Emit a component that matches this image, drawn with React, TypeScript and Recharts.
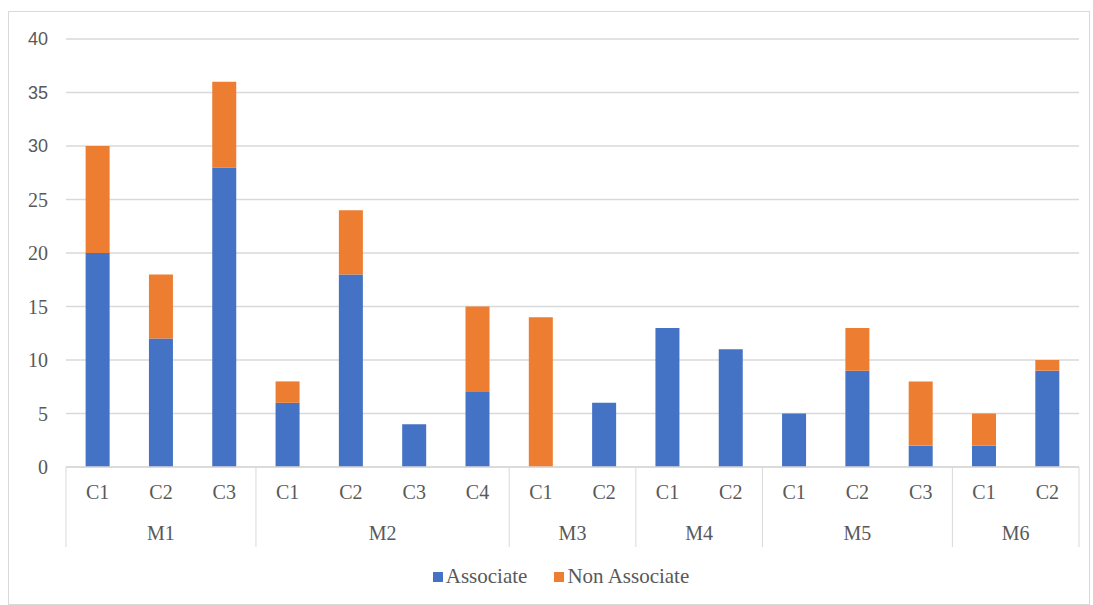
import React from "react";
import { BarChart, Bar, XAxis, YAxis, CartesianGrid, Legend } from "recharts";

// sub-category / group per column
const categories = ["C1", "C2", "C3", "C1", "C2", "C3", "C4", "C1", "C2", "C1", "C2", "C1", "C2", "C3", "C1", "C2"];
const groups = ["M1", "M1", "M1", "M2", "M2", "M2", "M2", "M3", "M3", "M4", "M4", "M5", "M5", "M5", "M6", "M6"];
const associate = [20, 12, 28, 6, 18, 4, 7, 0, 6, 13, 11, 5, 9, 2, 2, 9];
const nonAssociate = [10, 6, 8, 2, 6, 0, 8, 14, 0, 0, 0, 0, 4, 6, 3, 1];
const yTicks = [0, 5, 10, 15, 20, 25, 30, 35, 40];

const rows = categories.map((c, i) => ({
  key: i,
  c,
  m: groups[i],
  associate: associate[i],
  nonAssociate: nonAssociate[i],
}));

const W = 1080;
const H = 592;
const margin = { top: 27, right: 10, bottom: 57, left: 0 };
const Y_W = 57;
const step = (W - margin.left - margin.right - Y_W) / rows.length;
const gray = "#d9d9d9";
const txt = "#595959";
const serif = "'Times New Roman', Tinos, 'Nimbus Roman', FreeSerif, 'Liberation Serif', 'DejaVu Serif', serif";
const sans = "'Liberation Sans', Arial, sans-serif";

const YTick = (props: any) => {
  const { x, y, payload } = props;
  const big = payload.value >= 30;
  return (
    <text
      x={x}
      y={y}
      textAnchor="end"
      dominantBaseline="central"
      fill={txt}
      style={{ fontFamily: big ? sans : serif, fontSize: big ? 18 : 20 }}
    >
      {payload.value}
    </text>
  );
};

const XTick = (props: any) => {
  const { x, y, index } = props;
  const row = rows[index];
  if (!row) return null;
  const first = index === 0 || groups[index - 1] !== row.m;
  const last = index === rows.length - 1;
  let size = 0;
  if (first) {
    while (groups[index + size] === row.m) size++;
  }
  const font = { fontFamily: serif, fontSize: 20 };
  return (
    <g>
      <text x={x} y={y + 25} textAnchor="middle" dominantBaseline="central" fill={txt} style={font}>
        {row.c}
      </text>
      {first && (
        <>
          <line x1={x - step / 2} x2={x - step / 2} y1={y} y2={y + 80} stroke={gray} />
          <text
            x={x + ((size - 1) * step) / 2}
            y={y + 66}
            textAnchor="middle"
            dominantBaseline="central"
            fill={txt}
            style={font}
          >
            {row.m}
          </text>
        </>
      )}
      {last && <line x1={x + step / 2} x2={x + step / 2} y1={y} y2={y + 80} stroke={gray} />}
    </g>
  );
};

const LegendContent = () => (
  <div
    style={{
      display: "flex",
      justifyContent: "center",
      alignItems: "center",
      paddingLeft: 24,
      fontFamily: serif,
      fontSize: 21,
      color: txt,
    }}
  >
    {[
      { name: "Associate", color: "#4472C4" },
      { name: "Non Associate", color: "#ED7D31" },
    ].map((it, i) => (
      <span key={it.name} style={{ display: "flex", alignItems: "center", marginLeft: i ? 27 : 0 }}>
        <span style={{ width: 10, height: 10, background: it.color, marginRight: 3, display: "inline-block" }} />
        {it.name}
      </span>
    ))}
  </div>
);

export default function App() {
  return (
    <div
      style={{
        position: "absolute",
        left: 8,
        top: 11,
        width: W,
        height: 592,
        border: `1px solid ${gray}`,
        background: "#fff",
      }}
    >
      <BarChart width={W} height={H} data={rows} margin={margin} barCategoryGap="31%">
        <CartesianGrid vertical={false} stroke={gray} strokeWidth={1.5} />
        <XAxis
          dataKey="key"
          interval={0}
          tickSize={0}
          tickMargin={0}
          height={80}
          axisLine={{ stroke: gray, strokeWidth: 1.5 }}
          tickLine={false}
          tick={<XTick />}
        />
        <YAxis
          width={Y_W}
          domain={[0, 40]}
          ticks={yTicks}
          interval={0}
          axisLine={false}
          tickLine={false}
          tickSize={0}
          tickMargin={18}
          tick={<YTick />}
        />
        <Legend
          verticalAlign="middle"
          align="center"
          layout="horizontal"
          wrapperStyle={{ top: 552, left: 0, width: W }}
          content={<LegendContent />}
        />
        <Bar dataKey="associate" name="Associate" stackId="a" fill="#4472C4" isAnimationActive={false} />
        <Bar dataKey="nonAssociate" name="Non Associate" stackId="a" fill="#ED7D31" isAnimationActive={false} />
      </BarChart>
    </div>
  );
}
